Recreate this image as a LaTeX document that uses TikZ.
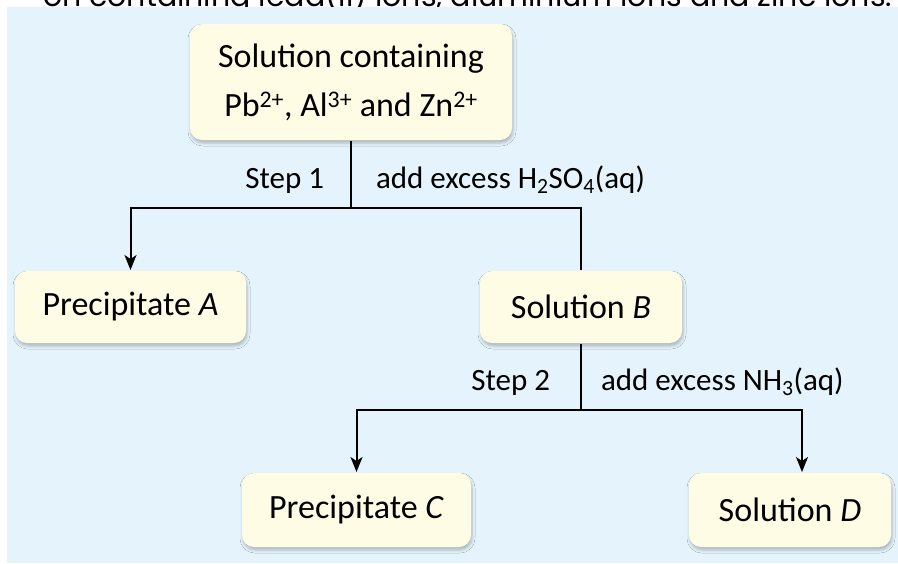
\documentclass[tikz,border=0pt]{standalone}
\usepackage{fontspec}
\setmainfont{Carlito}
\newfontfamily\capfont{Poppins}
\usetikzlibrary{arrows.meta,positioning,shadows.blur}
\definecolor{panelblue}{HTML}{E5F4FC}
\definecolor{boxyellow}{HTML}{FFFCE6}

\begin{document}
\begin{tikzpicture}[->,>={Stealth[length=15pt,width=12pt,inset=4pt]},x=1pt,y=-1pt,
line width=2pt]
\tikzstyle{box}=[fill=boxyellow,rounded corners=12pt,align=center,inner sep=0pt,
  blur shadow={shadow xshift=1pt,shadow yshift=-3pt,shadow blur radius=3pt,shadow opacity=25},
  font=\fontsize{34}{49}\selectfont]
\tikzstyle{lbl}=[inner sep=0pt,font=\fontsize{31}{37}\selectfont]

\useasboundingbox (0,0) rectangle (898,563);
\fill[white] (0,0) rectangle (898,563);
\begin{scope}
\clip (0,0) rectangle (898,7);
\node[anchor=base east,inner sep=0pt,font=\capfont\fontsize{30}{36}\selectfont] (cap) at (893,6) {on containing lead(II) ions, aluminium ions and zinc ions.};
\end{scope}
\fill[panelblue] (7,7) rectangle (898,563);

\node[box,minimum width=322pt,minimum height=116pt] (S) at (351,82) {Solution containing\\Pb\textsuperscript{2+}, Al\textsuperscript{3+} and Zn\textsuperscript{2+}};
\node[box,minimum width=231pt,minimum height=72pt] (A) at (130.5,307) {Precipitate \textit{A}};
\node[box,minimum width=202pt,minimum height=72pt] (B) at (581,307) {Solution \textit{B}};
\node[box,minimum width=229pt,minimum height=74pt] (C) at (356.5,510) {Precipitate \textit{C}};
\node[box,minimum width=202pt,minimum height=74pt] (D) [right=216pt of C] {Solution \textit{D}};

\coordinate (j1) at (S |- 0,208);
\coordinate (j2) at (B |- 0,410);

\node[lbl,anchor=base east] (s1) at (325,188) {Step 1};
\node[lbl,anchor=base west] (r1) at (375,188) {add excess H\textsubscript{2}SO\textsubscript{4}(aq)};
\node[lbl,anchor=base east] (s2) at (551,390) {Step 2};
\node[lbl,anchor=base west] (r2) at (600,390) {add excess NH\textsubscript{3}(aq)};

\draw[-] (S) -- (j1);
\draw (j1) -| (A);
\draw[-] (j1) -| (B);
\draw[-] (B) -- (j2);
\draw (j2) -| (C);
\draw (j2) -| ([xshift=12pt]D.north);
\end{tikzpicture}
\end{document}
